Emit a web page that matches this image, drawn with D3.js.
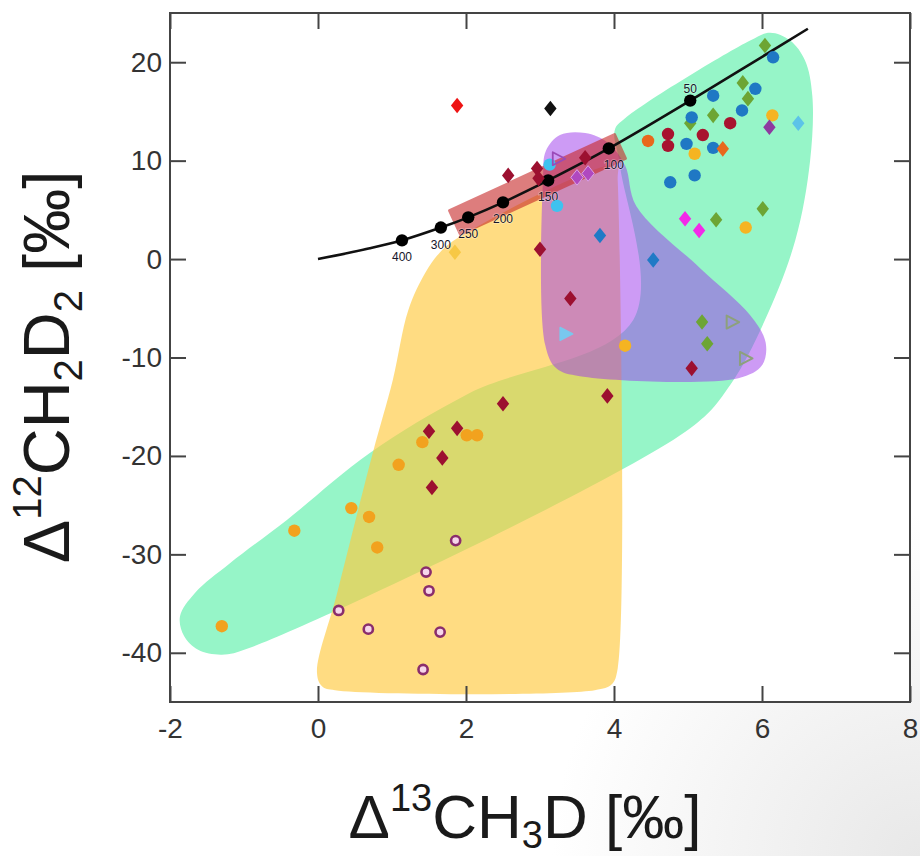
<!DOCTYPE html>
<html><head><meta charset="utf-8">
<script src="https://cdn.jsdelivr.net/npm/d3@7"></script>
<style>body{margin:0;background:#fff}svg{display:block}</style>
</head><body>
<script>
// ---------- data ----------
const xTicks = [-2, 0, 2, 4, 6, 8];
const yTicks = [20, 10, 0, -10, -20, -30, -40];

// equilibrium curve and temperature points (°C)
const curvePts = [[0,0],[0.7,1.09],[1.135,1.9],[1.66,3.2],[2.03,4.24],[2.5,5.76],[3.11,7.99],[3.93,11.24],[5.03,16.1],[6.62,23.4]];
const tempPts = [[1.135,1.9],[1.66,3.2],[2.03,4.24],[2.5,5.76],[3.11,7.99],[3.93,11.24],[5.03,16.1]];
const tempLabels = ["400","300","250","200","150","100","50"];

// shaded fields (outline vertices in data units)
const greenField = [[-1.865,-36.3],[-1.81,-38.3],[-1.62,-39.7],[-1.30,-40.2],[-0.92,-39.5],[5.03,-17.2],[5.57,-12.8],[6.04,-6.2],[6.45,1.9],[6.65,10.0],[6.68,16.6],[6.58,20.2],[6.38,22.2],[6.11,23.0],[5.84,22.2],[4.15,14.3],[4.01,13.1],[4.08,9.5],[4.26,-6.2],[2.05,-13.6],[0.70,-19.7],[-0.42,-26.5],[-1.19,-30.9],[-1.66,-33.9]];
const yellowField = [[-0.014,-42.0],[0.054,-43.4],[0.23,-43.8],[3.74,-43.8],[3.97,-43.2],[4.05,-41.6],[4.05,8.0],[4.03,9.5],[1.92,2.3],[1.65,0.7],[1.45,-1.4],[1.22,-5.2],[1.01,-12.3],[0.74,-19.7],[0.26,-33.9]];
const purpleField = [[3.04,8.0],[3.08,11.0],[3.27,12.6],[3.61,12.8],[3.92,11.8],[4.15,9.5],[4.30,5.4],[5.16,-0.9],[5.84,-5.7],[6.05,-8.5],[6.0,-10.8],[5.68,-12.1],[3.54,-11.9],[3.22,-11.1],[3.07,-8.7]];
const redBand = [[1.778,4.92],[1.924,2.53],[4.154,10.24],[4.008,12.64]];

// samples
const blueCircles = [[6.15,20.5],[5.34,16.6],[5.91,17.3],[5.73,15.1],[5.05,14.4],[4.98,11.7],[5.34,11.3],[5.09,8.5],[4.76,7.8]];
const greenDiamonds = [[6.04,21.7],[5.74,17.9],[5.81,16.3],[5.03,13.8],[5.34,14.6],[5.38,4.0],[6.01,5.1],[5.19,-6.4],[5.26,-8.6]];
const darkRedCircles = [[5.57,13.8],[4.73,12.7],[4.73,11.5],[5.20,12.6]];
const orangeRedCircles = [[4.46,12.0]];
const orangeRedDiamonds = [[5.47,11.2]];
const goldCircles = [[6.14,14.6],[5.09,10.7],[5.78,3.2],[4.15,-8.8]];
const purpleDiamonds = [[6.10,13.4]];
const violetDiamonds = [[3.50,8.3],[3.65,8.7]];
const skyDiamonds = [[6.49,13.8]];
const magentaDiamonds = [[4.96,4.1],[5.15,2.9]];
const blueDiamonds = [[3.81,2.4],[4.53,-0.1]];
const maroonDiamonds = [[3.0,1.0],[2.57,8.5],[2.96,9.2],[2.98,8.2],[3.61,10.3],[3.41,-4.0],[5.05,-11.1],[3.91,-13.9],[2.50,-14.7],[1.50,-17.5],[1.88,-17.2],[1.68,-20.2],[1.54,-23.2]];
const redDiamonds = [[1.88,15.6]];
const blackDiamonds = [[3.14,15.3]];
const yellowDiamonds = [[1.85,0.7]];
const skyCircles = [[3.23,5.4],[3.13,9.6]];
const violetTriangles = [[3.24,10.2]];
const skyTriangles = [[3.34,-7.6]];
const greyTriangles = [[5.59,-6.4],[5.77,-10.1]];
const orangeCircles = [[2.01,-17.9],[2.15,-17.9],[1.41,-18.6],[1.09,-20.9],[0.45,-25.3],[0.69,-26.2],[-0.32,-27.6],[0.80,-29.3],[-1.30,-37.3]];
const rings = [[1.86,-28.6],[1.46,-31.8],[1.50,-33.7],[0.28,-35.7],[0.68,-37.6],[1.65,-37.9],[1.42,-41.7]];

// ---------- drawing ----------
const W = 920, H = 856;
const svg = d3.select("body").append("svg").attr("width", W).attr("height", H);
const defs = svg.append("defs");
const rg = defs.append("radialGradient").attr("id","vig").attr("cx",1).attr("cy",1).attr("r",0.4);
rg.append("stop").attr("offset","0").attr("stop-color","#e8e8e8");
rg.append("stop").attr("offset","1").attr("stop-color","#ffffff");
svg.append("rect").attr("width",W).attr("height",H).attr("fill","url(#vig)");

const x = d3.scaleLinear().domain([-2, 8]).range([170, 910]);
const y = d3.scaleLinear().domain([-45, 25]).range([702, 13]);

svg.append("rect").attr("x",170).attr("y",13).attr("width",740).attr("height",689).attr("fill","#fff");

const area = d3.line().x(d => x(d[0])).y(d => y(d[1])).curve(d3.curveCatmullRomClosed.alpha(0.5));
const poly = d3.line().x(d => x(d[0])).y(d => y(d[1]));

svg.append("path").attr("d", area(greenField)).attr("fill", "rgb(150,245,200)");
svg.append("path").attr("d", area(yellowField)).attr("fill", "rgba(255,200,60,0.64)");
svg.append("path").attr("d", area(purpleField)).attr("fill", "rgba(155,55,235,0.5)");
svg.append("g").attr("opacity",0.6).append("path").attr("d", poly(redBand) + "Z")
  .attr("fill", "rgb(200,40,40)").attr("stroke","rgb(200,40,40)").attr("stroke-width",3).attr("stroke-linejoin","round");

// curve
svg.append("path").attr("d", d3.line().x(d=>x(d[0])).y(d=>y(d[1])).curve(d3.curveCatmullRom.alpha(0.5))(curvePts))
  .attr("fill","none").attr("stroke","#111").attr("stroke-width",2.6);
svg.selectAll(".tp").data(tempPts).join("circle")
  .attr("cx", d=>x(d[0])).attr("cy", d=>y(d[1])).attr("r",6.2).attr("fill","#000");
svg.selectAll(".tl").data(tempPts).join("text")
  .attr("x", (d,i)=>x(d[0]) + (tempLabels[i]==="100"?5:0))
  .attr("y", (d,i)=>y(d[1]) + (tempLabels[i]==="50" ? -8 : 21))
  .attr("text-anchor","middle").attr("font-family","Liberation Sans, Arial, sans-serif")
  .attr("font-size",12).attr("fill","#15152a")
  .attr("stroke","rgba(255,255,255,0.35)").attr("stroke-width",1.5).attr("paint-order","stroke")
  .text((d,i)=>tempLabels[i]);

// marker shapes
const circ = r => `M${-r},0A${r},${r} 0 1,0 ${r},0A${r},${r} 0 1,0 ${-r},0Z`;
const diam = (w,h) => `M0,${-h}L${w},0L0,${h}L${-w},0Z`;
const tri = `M-5,-6.5L7.5,0L-5,6.5Z`;

function markers(data, d, fill, stroke, sw) {
  svg.append("g").selectAll("path").data(data).join("path")
    .attr("transform", p => `translate(${x(p[0])},${y(p[1])})`)
    .attr("d", d).attr("fill", fill)
    .attr("stroke", stroke || "none").attr("stroke-width", sw || 0)
    .attr("stroke-linejoin","round");
}
const C = circ(6.2), D = diam(6.2, 7.8);
markers(greenDiamonds, D, "#6da534");
markers(blueCircles, C, "#1f78c4");
markers(darkRedCircles, C, "#a8132f");
markers(orangeRedCircles, C, "#e8681c");
markers(orangeRedDiamonds, D, "#e8681c");
markers(goldCircles, C, "#f5b422");
markers(purpleDiamonds, D, "#8e3aa0");
markers(skyDiamonds, D, "#5cc3e8");
markers(magentaDiamonds, D, "#f22ae8");
markers(blueDiamonds, D, "#1f7ac6");
markers(skyCircles, C, "#3fc2ef");
markers(maroonDiamonds, D, "#9c1030");
markers(violetDiamonds, D, "#b048c0", "#d9a0e8", 1);
markers(redDiamonds, D, "#ee1414");
markers(blackDiamonds, D, "#111");
markers(yellowDiamonds, D, "#f7c845");
markers(violetTriangles, tri, "none", "#9a4ab8", 1.8);
markers(skyTriangles, tri, "#78c8ee", "#78c8ee", 1.5);
markers(greyTriangles, tri, "none", "#8da07c", 2);
markers(orangeCircles, C, "#f2a21e");
markers(rings, circ(4.6), "#f6d6ea", "#8a2d6c", 2.6);

// frame + axes
const font = "Liberation Sans, Arial, Helvetica, sans-serif";
svg.append("rect").attr("x",170).attr("y",13).attr("width",740).attr("height",689)
  .attr("fill","none").attr("stroke","#444").attr("stroke-width",2);

function styleAxis(g) {
  g.select(".domain").remove();
  g.selectAll(".tick line").attr("stroke","#444").attr("stroke-width",2);
  g.selectAll(".tick text").attr("font-family",font).attr("font-size",28).attr("fill","#333");
}
const fmt = d => String(d);
svg.append("g").attr("transform","translate(170,0)")
  .call(d3.axisLeft(y).tickValues(yTicks).tickSizeInner(-16).tickSizeOuter(0).tickPadding(8).tickFormat(fmt))
  .call(styleAxis);
svg.append("g").attr("transform","translate(910,0)")
  .call(d3.axisRight(y).tickValues(yTicks).tickSizeInner(-16).tickSizeOuter(0).tickFormat(""))
  .call(styleAxis);
svg.append("g").attr("transform","translate(0,702)")
  .call(d3.axisBottom(x).tickValues(xTicks).tickSizeInner(-16).tickSizeOuter(0).tickPadding(16).tickFormat(fmt))
  .call(styleAxis);
svg.append("g").attr("transform","translate(0,13)")
  .call(d3.axisTop(x).tickValues(xTicks).tickSizeInner(-16).tickSizeOuter(0).tickFormat(""))
  .call(styleAxis);

// axis titles
const xt = svg.append("text").attr("x",525).attr("y",838).attr("text-anchor","middle")
  .attr("font-family",font).attr("font-size",62).attr("fill","#1a1a1a");
xt.append("tspan").text("Δ");
xt.append("tspan").attr("font-size",38).attr("dy",-27).text("13");
xt.append("tspan").attr("dy",27).text("CH");
xt.append("tspan").attr("font-size",38).attr("dy",10).text("3");
xt.append("tspan").attr("dy",-10).text("D [‰]");

const yt = svg.append("text").attr("transform","translate(69,367) rotate(-90)").attr("text-anchor","middle")
  .attr("font-family",font).attr("font-size",65).attr("fill","#1a1a1a");
yt.append("tspan").text("Δ");
yt.append("tspan").attr("font-size",40).attr("dy",-28).text("12");
yt.append("tspan").attr("dy",28).text("CH");
yt.append("tspan").attr("font-size",40).attr("dy",13).text("2");
yt.append("tspan").attr("dy",-13).text("D");
yt.append("tspan").attr("font-size",40).attr("dy",13).text("2");
yt.append("tspan").attr("dy",-13).text(" [‰]");
</script>
</body></html>
